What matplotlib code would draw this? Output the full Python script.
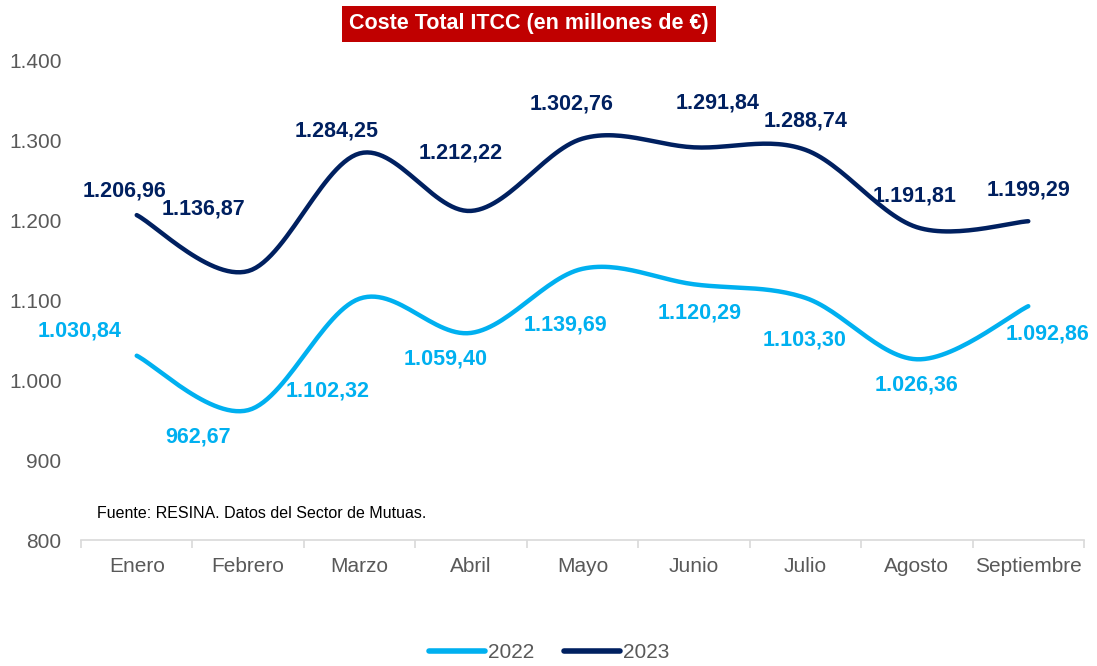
import numpy as np
import matplotlib
matplotlib.use("Agg")
import matplotlib.pyplot as plt
from matplotlib.lines import Line2D

plt.rcParams['font.family'] = ['Liberation Sans', 'DejaVu Sans']

months = ["Enero", "Febrero", "Marzo", "Abril", "Mayo", "Junio", "Julio", "Agosto", "Septiembre"]
v2022 = [1030.84, 962.67, 1102.32, 1059.40, 1139.69, 1120.29, 1103.30, 1026.36, 1092.86]
v2023 = [1206.96, 1136.87, 1284.25, 1212.22, 1302.76, 1291.84, 1288.74, 1191.81, 1199.29]
yticks = [800, 900, 1000, 1100, 1200, 1300, 1400]
title = "Coste Total ITCC (en millones de €)"
source = "Fuente: RESINA. Datos del Sector de Mutuas."

# label offsets in pixels (style only)
off2022 = [(-57, 25), (-50, -27), (-32, -92), (-25, -26), (-17, -56), (6, -29), (-1, -42), (0, -26), (19, -28)]
off2023 = [(-12, 24), (-45, 62), (-23, 22), (-10, 58), (-11, 35), (24, 44), (0, 29), (-2, 31), (0, 31)]

C22 = "#00B0F0"
C23 = "#002060"
GRAY = "#595959"
FS = 15

def fmt(v):
    s = f"{v:,.2f}"
    return s.replace(",", "X").replace(".", ",").replace("X", ".")

def fmt_tick(v):
    return f"{int(v):,}".replace(",", ".")

def smooth(xs, ys, n=30):
    P = np.column_stack([xs, ys]).astype(float)
    out = [P[0]]
    for i in range(len(P) - 1):
        p0 = P[i - 1] if i > 0 else P[i]
        p1 = P[i]
        p2 = P[i + 1]
        p3 = P[i + 2] if i + 2 < len(P) else P[i + 1]
        c1 = p1 + (p2 - p0) / 6.0
        c2 = p2 - (p3 - p1) / 6.0
        t = np.linspace(0, 1, n)[1:, None]
        seg = ((1 - t) ** 3) * p1 + 3 * ((1 - t) ** 2) * t * c1 + 3 * (1 - t) * t ** 2 * c2 + t ** 3 * p2
        out.extend(seg)
    out = np.array(out)
    return out[:, 0], out[:, 1]

fig = plt.figure(figsize=(10.97, 6.66), dpi=100)
ax = fig.add_axes([81 / 1097, 126 / 666, (1084 - 81) / 1097, (540 - 61) / 666])

x = np.arange(len(months))
for vals, col, offs in [(v2022, C22, off2022), (v2023, C23, off2023)]:
    sx, sy = smooth(x, vals)
    ax.plot(sx, sy, color=col, lw=3.2, solid_capstyle='round', zorder=3)
    for xi, v, (dx, dy) in zip(x, vals, offs):
        ax.annotate(fmt(v), (xi, v), xytext=(dx, dy), textcoords='offset pixels',
                    ha='center', va='center', fontsize=15.5, fontweight='bold', color=col, zorder=4)

ax.set_xlim(-0.5, len(months) - 0.5)
ax.set_ylim(800, 1400)
ax.set_yticks(yticks)
ax.set_yticklabels([fmt_tick(t) for t in yticks], fontsize=FS, color=GRAY)
ax.set_xticks(x)
ax.set_xticklabels(months, fontsize=FS, color=GRAY)
ax.tick_params(axis='y', length=0, pad=14)
ax.tick_params(axis='x', length=0, pad=12)
ax.set_xticks(np.arange(-0.5, len(months)), minor=True)
ax.tick_params(axis='x', which='minor', length=6, color="#D9D9D9", width=1.2)
for s in ['top', 'right', 'left']:
    ax.spines[s].set_visible(False)
ax.spines['bottom'].set_color("#D9D9D9")
ax.spines['bottom'].set_linewidth(1.2)

fig.text(97 / 1097, 1 - 513 / 666, source, fontsize=11.5, color="black", va='center', ha='left')

fig.text(529 / 1097, 1 - 24 / 666, title, fontsize=15.5, fontweight='bold', color='white',
         ha='center', va='center',
         bbox=dict(boxstyle='square,pad=0.33', facecolor='#C00000', edgecolor='none'))

handles = [Line2D([0], [0], color=C22, lw=4, solid_capstyle='round'),
           Line2D([0], [0], color=C23, lw=4, solid_capstyle='round')]
fig.legend(handles, ["2022", "2023"], loc='center', bbox_to_anchor=(549 / 1097, 1 - 653 / 666),
           ncol=2, frameon=False, fontsize=FS, labelcolor=GRAY, handlelength=2.7,
           handletextpad=0.15, columnspacing=1.4)

fig.savefig("out.png", dpi=100)
